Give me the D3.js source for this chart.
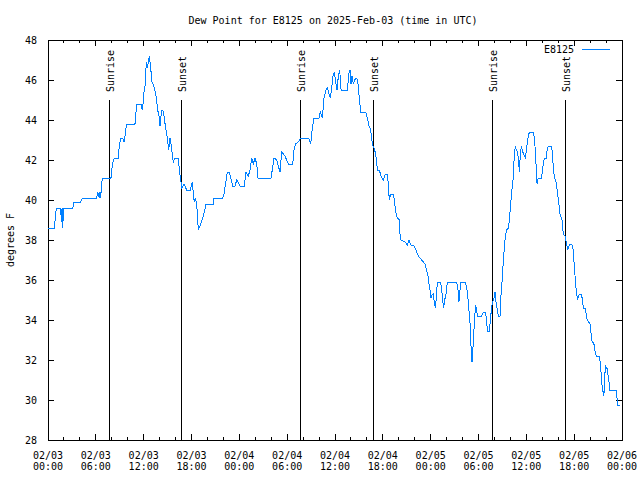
<!DOCTYPE html>
<html><head><meta charset="utf-8">
<script src="https://cdn.jsdelivr.net/npm/d3@7"></script>
<style>
body{margin:0;background:#fff}
text{font-family:"DejaVu Sans Mono",monospace;font-size:10px;fill:#000}
</style>
</head><body><svg id="c" width="640" height="480"></svg>
<script>
const title = "Dew Point for E8125 on 2025-Feb-03 (time in UTC)";
const seriesName = "E8125";
const yLabel = "degrees F";
const startTime = "2025-02-03T00:00:00Z";
const endTime = "2025-02-06T00:00:00Z";
// hours since 02/03 00:00 UTC
const hours = [0,0.79,1.04,1.59,1.67,1.76,1.84,1.97,3.10,3.26,4.10,4.30,6.11,6.23,6.44,6.52,6.61,6.74,6.86,7.90,7.99,8.15,8.32,8.87,8.91,9.03,9.12,9.37,9.53,9.66,9.78,9.87,10.91,11.00,11.08,11.16,11.67,11.83,11.92,12.04,12.21,12.29,12.38,12.46,12.58,12.71,12.79,12.88,13.05,13.26,13.51,13.64,13.76,13.92,14.05,14.26,14.39,14.55,14.72,14.89,15.05,15.14,15.30,15.43,15.56,15.72,15.93,16.35,16.47,16.65,16.78,17.06,17.40,17.85,18.10,18.23,18.35,18.48,18.65,18.86,19.16,19.48,19.66,19.82,20.74,20.82,21.91,22.08,22.49,22.74,23.17,23.46,23.67,23.96,24.08,24.62,24.84,25.12,25.34,25.55,25.75,25.97,26.18,26.34,27.97,28.13,28.35,28.69,28.89,29.10,29.31,29.52,29.73,30.14,30.70,30.86,31.03,31.40,31.70,32.70,32.95,33.15,33.37,33.99,34.16,34.41,34.62,34.87,35.04,35.25,35.42,35.59,35.75,35.92,36.13,36.25,36.42,36.59,36.76,37.55,37.73,37.88,38.01,38.13,38.30,38.47,38.64,38.85,38.97,39.10,39.22,39.85,40.05,40.27,40.48,40.68,40.89,41.11,41.23,41.36,41.56,41.77,42.06,42.31,42.56,42.69,42.81,42.99,43.32,43.49,43.57,43.82,44.07,44.15,44.28,44.78,45.07,45.28,45.50,45.91,46.16,46.45,46.87,47.29,47.50,47.66,47.79,47.91,48.04,48.17,48.33,48.45,48.58,48.71,48.83,49.26,49.38,49.51,49.63,49.76,49.92,50.09,51.26,51.43,51.55,51.68,51.80,52.35,52.52,52.65,52.77,52.90,52.98,53.10,53.19,53.28,53.35,53.48,53.57,53.66,53.78,53.91,54.41,54.61,54.82,54.95,55.07,55.16,55.36,55.49,55.66,55.79,55.95,56.08,56.20,56.36,56.49,56.70,56.79,56.95,57.12,57.24,57.37,57.54,57.74,57.87,58.04,58.21,58.33,58.42,58.50,58.62,58.75,58.87,59.00,59.13,59.25,59.38,59.50,59.63,59.76,59.88,60.01,60.13,60.26,60.38,60.89,61.01,61.14,61.26,61.35,61.48,61.64,61.89,62.02,62.15,62.27,62.48,62.61,62.74,63.15,63.28,63.40,63.53,63.74,63.90,64.03,64.16,64.25,64.46,64.58,64.71,64.87,64.96,65.09,65.21,65.34,65.46,65.71,65.84,65.92,66.00,66.13,66.25,66.42,66.54,66.67,66.88,67.00,67.09,67.22,67.42,67.50,67.63,67.80,67.92,68.05,68.14,68.26,68.39,68.51,68.64,68.76,69.14,69.27,69.35,69.43,69.56,69.64,69.73,69.81,69.93,70.02,70.14,70.23,70.36,70.43,71.27,71.36,71.43,71.77];
const dewF = [38.6,38.6,39.6,39.6,38.9,39.6,38.6,39.6,39.6,39.9,39.9,40.1,40.1,40.4,40.1,40.4,40.1,40.9,41.1,41.1,41.5,41.9,42.1,42.1,42.6,42.9,43.1,43.1,42.9,43.2,43.6,43.8,43.8,44.2,44.6,44.8,44.8,44.5,44.8,45.4,45.8,46.6,46.9,46.6,46.9,47.2,46.9,46.6,45.9,45.7,45.3,44.9,44.5,44.2,43.7,44.5,44.5,44.2,43.7,43.3,42.8,42.5,43.1,42.8,42.4,41.9,42.1,42.1,41.5,41.0,40.6,40.8,40.5,40.5,40.9,40.3,39.9,40.1,39.8,38.5,38.8,39.2,39.5,39.8,39.8,40.1,40.1,40.3,41.4,41.4,40.7,40.7,41.0,40.8,40.7,40.7,41.4,41.2,41.5,42.1,41.8,42.1,41.8,41.1,41.1,41.5,42.1,42.0,41.7,41.4,42.4,42.3,42.2,41.8,41.8,42.5,42.8,42.9,43.1,43.1,42.8,43.6,44.1,44.1,44.4,44.1,45.1,45.5,45.6,45.3,45.1,45.6,46.2,46.4,45.8,45.5,46.2,46.5,45.5,45.5,46.3,46.5,45.8,46.2,45.8,46.0,46.1,46.0,45.4,44.9,44.4,44.4,44.1,43.7,43.5,42.8,42.6,42.3,41.8,41.5,41.5,41.2,41.0,41.3,41.3,40.8,40.0,40.3,40.3,39.9,39.5,39.1,39.0,38.3,38.0,37.9,37.75,38.0,37.75,37.7,37.5,37.2,37.0,36.8,36.5,36.2,35.8,35.5,35.1,35.25,35.3,34.9,34.6,35.1,35.9,35.9,35.5,35.0,34.6,35.0,35.3,35.9,35.9,35.5,34.9,35.5,35.9,35.9,35.6,35.2,34.6,34.1,33.5,32.3,31.9,32.3,33.1,33.75,34.4,34.75,34.4,34.2,34.2,34.4,34.4,34.2,33.7,33.45,33.45,34.0,34.7,34.9,35.1,35.4,34.9,34.5,34.2,34.2,35.1,35.9,37.0,37.6,38.2,38.5,38.6,39.0,39.8,40.6,41.0,41.7,42.3,42.7,42.5,42.4,42.1,41.4,42.3,42.7,42.5,42.3,42.2,42.1,42.5,42.9,43.2,43.4,43.4,43.1,42.4,41.4,40.8,41.1,41.1,41.1,41.4,41.9,42.1,42.1,42.5,42.7,42.7,42.3,41.5,41.1,40.9,40.4,40.0,39.5,39.2,39.1,38.5,38.25,38.2,38.0,37.7,37.5,37.7,37.8,37.8,37.6,37.3,36.8,36.1,35.5,35.0,35.2,35.3,35.3,35.1,34.8,34.6,34.6,34.3,34.0,33.9,33.9,33.7,33.2,32.9,32.9,32.75,32.4,32.2,32.2,31.9,31.5,31.0,30.5,30.4,30.2,31.0,31.75,31.6,31.6,31.3,31.0,30.5,30.5,30.2,29.75,29.75];
const sunriseHours = [7.69, 31.67, 55.73];
const sunsetHours = [16.71, 40.80, 64.89];
const yTicks = [28,30,32,34,36,38,40,42,44,46,48];

const W=640,H=480, L=48, R=622, T=40, B=440;
const svg = d3.select("#c");
const t0 = new Date(startTime);
const toDate = h => new Date(t0.getTime() + h*3600e3);
const x = d3.scaleUtc().domain([t0, new Date(endTime)]).range([L,R]);
const y = d3.scaleLinear().domain([28,48]).range([B,T]);
const n = Math.min(hours.length, dewF.length);
const data = d3.range(n).map(i => ({t: toDate(hours[i]), v: dewF[i]}));

const g = svg.append("g").attr("shape-rendering","crispEdges");
const major = x.ticks(d3.utcHour.every(6));
const minor = x.ticks(d3.utcHour.every(2));

// x ticks (bottom & top, inward)
g.selectAll(".mnb").data(minor).join("line").attr("x1",d=>x(d)).attr("x2",d=>x(d)).attr("y1",B).attr("y2",B-3).attr("stroke","#000");
g.selectAll(".mnt").data(minor).join("line").attr("x1",d=>x(d)).attr("x2",d=>x(d)).attr("y1",T).attr("y2",T+3).attr("stroke","#000");
g.selectAll(".mjb").data(major).join("line").attr("x1",d=>x(d)).attr("x2",d=>x(d)).attr("y1",B).attr("y2",B-6).attr("stroke","#000");
g.selectAll(".mjt").data(major).join("line").attr("x1",d=>x(d)).attr("x2",d=>x(d)).attr("y1",T).attr("y2",T+6).attr("stroke","#000");
// y ticks
g.selectAll(".yl").data(yTicks).join("line").attr("x1",L).attr("x2",L+6).attr("y1",d=>y(d)).attr("y2",d=>y(d)).attr("stroke","#000");
g.selectAll(".yr").data(yTicks).join("line").attr("x1",R).attr("x2",R-6).attr("y1",d=>y(d)).attr("y2",d=>y(d)).attr("stroke","#000");

// labels
svg.selectAll(".ytl").data(yTicks).join("text").attr("x",37).attr("y",d=>y(d)+3.5).attr("text-anchor","end").text(d=>d);
const fmtD = d3.utcFormat("%m/%d"), fmtT = d3.utcFormat("%H:%M");
svg.selectAll(".xd").data(major).join("text").attr("x",d=>x(d)).attr("y",459).attr("text-anchor","middle").text(d=>fmtD(d));
svg.selectAll(".xt").data(major).join("text").attr("x",d=>x(d)).attr("y",470).attr("text-anchor","middle").text(d=>fmtT(d));

svg.append("text").attr("x",333).attr("y",24).attr("text-anchor","middle").text(title);
svg.append("text").attr("transform","translate(14,240) rotate(-90)").attr("text-anchor","middle").text(yLabel);

// sunrise / sunset
const events = sunriseHours.map(h=>({h,label:"Sunrise"})).concat(sunsetHours.map(h=>({h,label:"Sunset"})));
g.selectAll(".ev").data(events).join("line").attr("x1",d=>x(toDate(d.h))).attr("x2",d=>x(toDate(d.h))).attr("y1",100).attr("y2",B).attr("stroke","#000");
svg.selectAll(".evt").data(events).join("text").attr("transform",d=>`translate(${x(toDate(d.h))+5},92) rotate(-90)`).text(d=>d.label);

// data line
const line = d3.line().x(d=>x(d.t)).y(d=>y(d.v));
svg.append("path").datum(data).attr("d",line).attr("fill","none").attr("stroke","#0080ff").attr("stroke-width",1).attr("shape-rendering","crispEdges");

// legend
svg.append("text").attr("x",574).attr("y",53).attr("text-anchor","end").text(seriesName);
g.append("line").attr("x1",582).attr("x2",610).attr("y1",49).attr("y2",49).attr("stroke","#0080ff");

// frame
g.append("rect").attr("x",L).attr("y",T).attr("width",R-L).attr("height",B-T).attr("fill","none").attr("stroke","#000");
</script></body></html>
